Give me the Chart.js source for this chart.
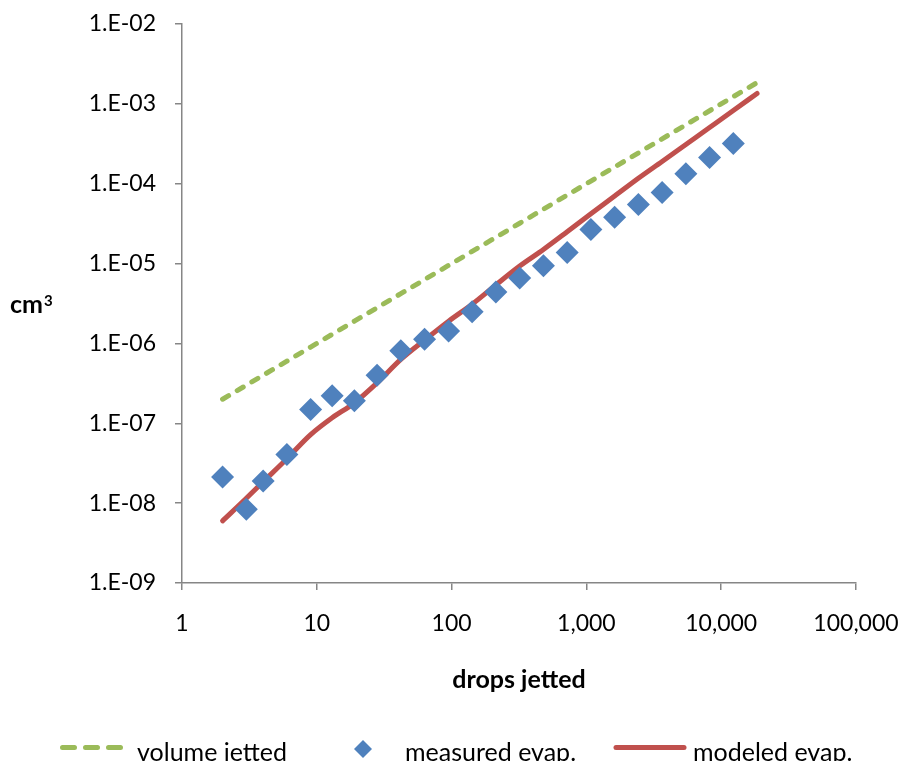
<!DOCTYPE html>
<html>
<head>
<meta charset="utf-8">
<script src="https://cdn.jsdelivr.net/npm/chart.js@4.4.1/dist/chart.umd.min.js"></script>
<style>
  html, body { margin: 0; padding: 0; background: #fff; }
</style>
</head>
<body>
<canvas id="evapChart" width="904" height="761"></canvas>
<script>
// drop counts (each step is ~1.5x the previous one)
const drops = [2, 3, 4, 6, 9, 13, 19, 28, 42, 63, 95, 142, 213, 320, 480, 720, 1080, 1620, 2430, 3645, 5470, 8200, 12300, 18450];
const measuredDrops = [2, 3, 4, 6, 9, 13, 19, 28, 42, 63, 95, 142, 213, 320, 480, 720, 1080, 1620, 2430, 3645, 5470, 8200, 12300];

// cm^3
const volumeJetted = [2e-7, 3e-7, 4e-7, 6e-7, 9e-7, 1.3e-6, 1.9e-6, 2.8e-6, 4.2e-6, 6.3e-6, 9.5e-6, 1.42e-5, 2.13e-5, 3.2e-5, 4.8e-5, 7.2e-5, 1.08e-4, 1.62e-4, 2.43e-4, 3.645e-4, 5.47e-4, 8.2e-4, 1.23e-3, 1.845e-3];
const measuredEvap = [2.12e-8, 8.4e-9, 1.89e-8, 4.08e-8, 1.49e-7, 2.21e-7, 1.91e-7, 4.0e-7, 8.1e-7, 1.13e-6, 1.43e-6, 2.49e-6, 4.42e-6, 6.6e-6, 9.4e-6, 1.38e-5, 2.67e-5, 3.81e-5, 5.48e-5, 7.76e-5, 1.33e-4, 2.13e-4, 3.18e-4];
const modeledEvap = [6.0e-9, 1.15e-8, 1.85e-8, 3.6e-8, 7.2e-8, 1.17e-7, 1.8e-7, 3.2e-7, 6.3e-7, 1.1e-6, 1.9e-6, 3.1e-6, 5.4e-6, 9.3e-6, 1.5e-5, 2.5e-5, 4.2e-5, 7.0e-5, 1.17e-4, 1.9e-4, 3.1e-4, 5.05e-4, 8.24e-4, 1.35e-3];

const xTicks = [1, 10, 100, 1000, 10000, 100000];
const xTickLabels = ['1', '10', '100', '1,000', '10,000', '100,000'];
const yTicks = [1e-9, 1e-8, 1e-7, 1e-6, 1e-5, 1e-4, 1e-3, 1e-2];
const yTickLabels = ['1.E-09', '1.E-08', '1.E-07', '1.E-06', '1.E-05', '1.E-04', '1.E-03', '1.E-02'];

const FONT = 'Lato';
const TICK_SIZE = 23;
const TEXT_SIZE = 25;
const AXIS_GREY = '#868686';

function toPoints(xs, ys) {
  return xs.map((x, i) => ({ x: x, y: ys[i] }));
}

// y-axis unit label and the legend row underneath the chart
const extrasPlugin = {
  id: 'extras',
  afterDraw(chart) {
    const ctx = chart.ctx;
    const sets = chart.data.datasets;
    ctx.save();

    ctx.fillStyle = '#000';
    ctx.textAlign = 'left';
    ctx.textBaseline = 'alphabetic';
    ctx.font = 'bold ' + TEXT_SIZE + 'px ' + FONT;
    ctx.fillText('cm', 10, 313);
    const cmW = ctx.measureText('cm').width;
    ctx.font = 'bold 15px ' + FONT;
    ctx.fillText('3', 10 + cmW + 1, 306);

    const ly = 747.5;
    // volume jetted swatch
    ctx.strokeStyle = sets[0].borderColor;
    ctx.lineWidth = 5;
    ctx.lineCap = 'round';
    ctx.setLineDash([12, 11]);
    ctx.beginPath();
    ctx.moveTo(62.5, ly);
    ctx.lineTo(122, ly);
    ctx.stroke();
    ctx.setLineDash([]);

    // measured swatch
    ctx.fillStyle = sets[1].backgroundColor;
    Chart.helpers.drawPoint(ctx, { pointStyle: 'rectRot', radius: 9, borderWidth: 0 }, 363, 749);

    // modeled swatch
    ctx.strokeStyle = sets[2].borderColor;
    ctx.lineWidth = 5;
    ctx.lineCap = 'round';
    ctx.beginPath();
    ctx.moveTo(616, ly);
    ctx.lineTo(684, ly);
    ctx.stroke();

    ctx.fillStyle = '#000';
    ctx.font = TEXT_SIZE + 'px ' + FONT;
    ctx.textBaseline = 'alphabetic';
    ctx.fillText(sets[0].label, 137, 761);
    ctx.fillText(sets[1].label, 405, 761);
    ctx.fillText(sets[2].label, 693, 761);
    ctx.restore();
  }
};

const ctx = document.getElementById('evapChart').getContext('2d');
const evapChart = new Chart(ctx, {
  type: 'scatter',
  data: {
    datasets: [{
      label: 'volume jetted',
      data: toPoints(drops, volumeJetted),
      showLine: true,
      borderColor: '#9BBB59',
      backgroundColor: '#9BBB59',
      borderWidth: 5,
      borderDash: [7, 10],
      borderCapStyle: 'round',
      pointRadius: 0,
      order: 2
    }, {
      label: 'measured evap.',
      data: toPoints(measuredDrops, measuredEvap),
      pointStyle: 'rectRot',
      pointRadius: 11.5,
      pointBorderWidth: 0,
      backgroundColor: '#4F81BD',
      borderColor: '#4F81BD',
      order: 0
    }, {
      label: 'modeled evap.',
      data: toPoints(drops, modeledEvap),
      showLine: true,
      borderColor: '#C0504D',
      backgroundColor: '#C0504D',
      borderWidth: 5,
      borderCapStyle: 'round',
      borderJoinStyle: 'round',
      cubicInterpolationMode: 'monotone',
      pointRadius: 0,
      order: 1
    }]
  },
  options: {
    responsive: false,
    animation: false,
    layout: { padding: { top: 24, right: 48, bottom: 0, left: 0 } },
    plugins: {
      legend: { display: false },
      tooltip: { enabled: false }
    },
    scales: {
      x: {
        type: 'logarithmic',
        position: 'bottom',
        min: 1,
        max: 100000,
        afterBuildTicks: s => { s.ticks = xTicks.map(v => ({ value: v })); },
        afterFit: s => {
          s.height = 178;
          s.paddingLeft = 0;
          s.paddingRight = 0;
        },
        ticks: {
          autoSkip: false,
          maxRotation: 0,
          padding: 20,
          color: '#000',
          font: { family: FONT, size: TICK_SIZE },
          callback: (v, i) => xTickLabels[i]
        },
        grid: { drawOnChartArea: false, tickLength: 7, color: AXIS_GREY, lineWidth: 1.5 },
        border: { color: AXIS_GREY, width: 1.5 },
        title: {
          display: true,
          text: 'drops jetted',
          color: '#000',
          font: { family: FONT, size: TEXT_SIZE, weight: 'bold' },
          padding: { top: 0, bottom: 66 }
        }
      },
      y: {
        type: 'logarithmic',
        position: 'left',
        min: 1e-9,
        max: 1e-2,
        afterBuildTicks: s => { s.ticks = yTicks.map(v => ({ value: v })); },
        afterFit: s => {
          s.width = 182;
          s.paddingTop = 0;
          s.paddingBottom = 0;
        },
        ticks: {
          autoSkip: false,
          padding: 19,
          color: '#000',
          font: { family: FONT, size: TICK_SIZE },
          callback: (v, i) => yTickLabels[i]
        },
        grid: { drawOnChartArea: false, tickLength: 7, color: AXIS_GREY, lineWidth: 1.5 },
        border: { color: AXIS_GREY, width: 1.5 }
      }
    }
  },
  plugins: [extrasPlugin]
});
</script>
</body>
</html>
